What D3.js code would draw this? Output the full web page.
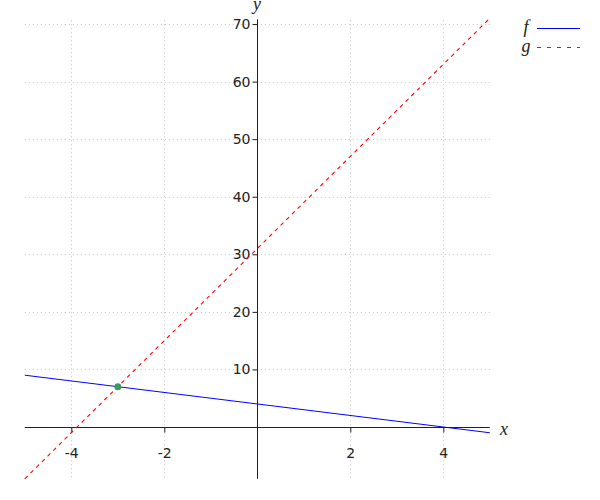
<!DOCTYPE html>
<html><head><meta charset="utf-8">
<script src="https://cdn.jsdelivr.net/npm/d3@7"></script>
<style>body{margin:0;background:#fff}
.tick text{font-family:"DejaVu Sans";font-size:14px}</style>
</head><body>
<svg id="c" width="600" height="500"></svg>
<script>
const xDomain = [-5, 5];
const yDomain = [-9, 71];
const xTicks = [-4, -2, 2, 4];
const yTicks = [10, 20, 30, 40, 50, 60, 70];
const xGrid = [-4, -2, 0, 2, 4];
const yGrid = [10, 20, 30, 40, 50, 60, 70];
const fXs = [-5, 5];
const fYs = [9, -1];
const gXs = [-5, 5];
const gYs = [-9, 71];
const pointX = [-3];
const pointY = [7];
const seriesNames = ["f", "g"];

const svg = d3.select("#c");
const x = d3.scaleLinear().domain(xDomain).range([24.8, 489.8]);
const y = d3.scaleLinear().domain(yDomain).range([478.8, 18.3]);

// grid
const grid = svg.append("g").attr("stroke", "#c0c0c0").attr("stroke-width", 1).attr("stroke-dasharray", "1,3");
grid.selectAll(".hg").data(yGrid).join("line")
  .attr("x1", x(xDomain[0])).attr("x2", x(xDomain[1]))
  .attr("y1", d => Math.round(y(d)) + 0.5).attr("y2", d => Math.round(y(d)) + 0.5);
grid.selectAll(".vg").data(xGrid).join("line")
  .attr("y1", y(yDomain[1]) + 2).attr("y2", y(yDomain[0]))
  .attr("x1", d => Math.round(x(d)) + 0.5).attr("x2", d => Math.round(x(d)) + 0.5);

// axes
const fmt = d => String(d);
const xAxis = d3.axisBottom(x).tickValues(xTicks).tickSize(5).tickPadding(16).tickFormat(fmt);
const yAxis = d3.axisLeft(y).tickValues(yTicks).tickSize(5).tickPadding(2).tickFormat(fmt);
const gx = svg.append("g").attr("transform", `translate(0,${Math.round(y(0)) + 0.5})`).call(xAxis);
const gy = svg.append("g").attr("transform", `translate(${Math.round(x(0)) + 0.5},0)`).call(yAxis);
[gx, gy].forEach(g => {
  g.attr("font-size", 14).attr("font-family", "DejaVu Sans");
  g.select(".domain").attr("stroke", "#222");
  g.selectAll(".tick line").attr("stroke", "#222");
  g.selectAll(".tick text").attr("fill", "#222");
});
gx.select(".domain").attr("d", `M${x(xDomain[0])},0H${x(xDomain[1])}`);
gy.select(".domain").attr("d", `M0,${y(yDomain[1]) + 1}V${y(yDomain[0])}`);

// series
const line = d3.line().x(d => x(d[0])).y(d => y(d[1]));
svg.append("path").datum(fXs.map((v, i) => [v, fYs[i]]))
  .attr("d", line).attr("fill", "none").attr("stroke", "#0000ff").attr("stroke-width", 1);
svg.append("path").datum(gXs.map((v, i) => [v, gYs[i]]))
  .attr("d", line).attr("fill", "none").attr("stroke", "#ff0000").attr("stroke-width", 1.1).attr("stroke-dasharray", "4,4");
svg.selectAll(".pt").data(pointX.map((v, i) => [v, pointY[i]])).join("circle")
  .attr("cx", d => x(d[0])).attr("cy", d => y(d[1])).attr("r", 3.5).attr("fill", "#3a9a5a");

// axis labels
svg.append("text").attr("x", 500).attr("y", 435).text("x")
  .style("font-family", "Liberation Serif").style("font-style", "italic").style("font-size", "18px").attr("fill", "#222");
svg.append("text").attr("x", 253).attr("y", 10).text("y")
  .style("font-family", "Liberation Serif").style("font-style", "italic").style("font-size", "18px").attr("fill", "#222");

// legend
const leg = svg.append("g");
seriesNames.forEach((n, i) => {
  const ly = 28 + i * 19;
  leg.append("text").attr("x", 526).attr("y", ly + 5).attr("text-anchor", "middle").text(n)
    .style("font-family", "Liberation Serif").style("font-style", "italic").style("font-size", "18px").attr("fill", "#222");
  leg.append("line").attr("x1", 537).attr("x2", 580).attr("y1", ly + 0.5).attr("y2", ly + 0.5)
    .attr("stroke", i === 0 ? "#0000ff" : "#ff0000").attr("stroke-width", 1.2)
    .attr("stroke-dasharray", i === 0 ? null : "4,6");
});
</script>
</body></html>
